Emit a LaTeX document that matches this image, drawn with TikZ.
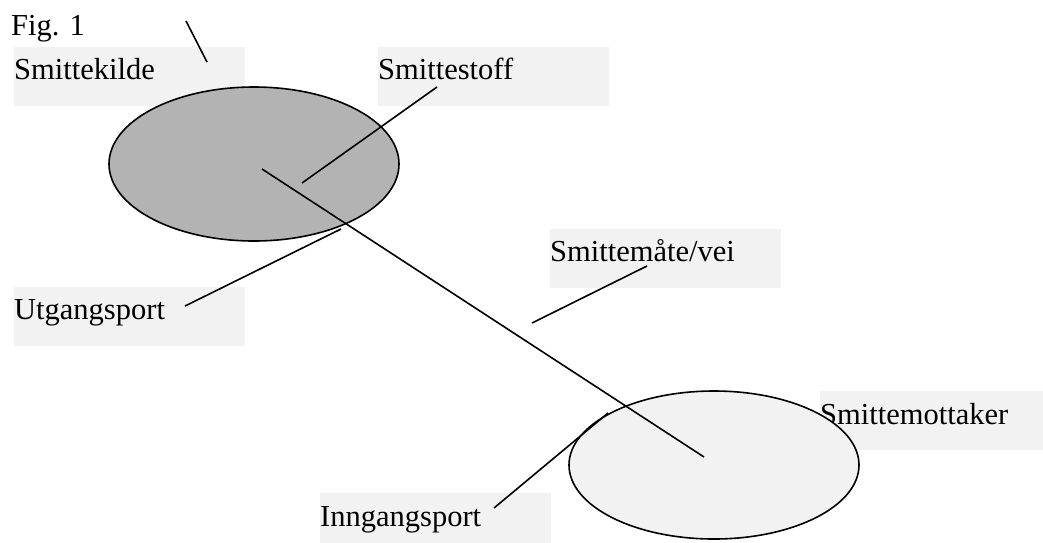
\documentclass[tikz,border=0pt]{standalone}
\usepackage{fontspec}
\setmainfont{Liberation Serif}
\definecolor{boxgray}{RGB}{242,242,242}
\definecolor{darkfill}{RGB}{179,179,179}
\tikzset{
  lbl/.style={anchor=north west, fill=boxgray, inner sep=0pt, text width=231pt,
    text height=32pt, text depth=27pt, align=left, font=\fontsize{30.5}{36}\selectfont},
  blob/.style={ellipse, draw=black, line width=1.6pt, minimum width=290pt, inner sep=0pt},
  ptr/.style={draw=black, line width=1.6pt}
}
\usetikzlibrary{shapes.geometric}
\begin{document}
\begin{tikzpicture}[x=1pt,y=-1pt]
\useasboundingbox (0,0) rectangle (1043,542);
\fill[white] (0,0) rectangle (1043,542);
% label boxes
\node[lbl] (kilde) at (14,47) {Smittekilde};
\node[lbl] (stoff) at (378,47) {Smittestoff};
\node[lbl] (utgang) at (14,287) {Utgangsport};
\node[lbl] (maate) at (550,229) {Smittemåte/vei};
\node[lbl, text height=33pt, text depth=26pt] (inngang) at (320,493) {Inngangsport};
\node[lbl, text height=33pt, text depth=26pt] (mottaker) at (820,391) {Smittemottaker};
\node[anchor=base west, inner sep=0pt, font=\fontsize{30.5}{36}\selectfont] (fig) at (11,35) {Fig. 1};
% ellipses
\node[blob, fill=darkfill, minimum height=154pt] (source) at (254,164) {};
\node[blob, fill=boxgray, minimum height=148pt] (receiver) at (714,465) {};
% connector end points
\coordinate (a1) at (186,21);
\coordinate (a2) at (207,62);
\coordinate (s1) at (437,87);
\coordinate (s2) at (302,183);
\coordinate (r1) at (262,169);
\coordinate (r2) at (704,457);
\coordinate (m1) at (647,266);
\coordinate (m2) at (532,323);
\coordinate (u1) at (185,306);
\coordinate (u2) at (341,229);
\coordinate (i1) at (494,508);
\coordinate (i2) at (608,413);
% connectors
\draw[ptr] (a1) -- (a2);
\draw[ptr] (s1) -- (s2);
\draw[ptr] (r1) -- (r2);
\draw[ptr] (m1) -- (m2);
\draw[ptr] (u1) -- (u2);
\draw[ptr] (i1) -- (i2);
\end{tikzpicture}
\end{document}
